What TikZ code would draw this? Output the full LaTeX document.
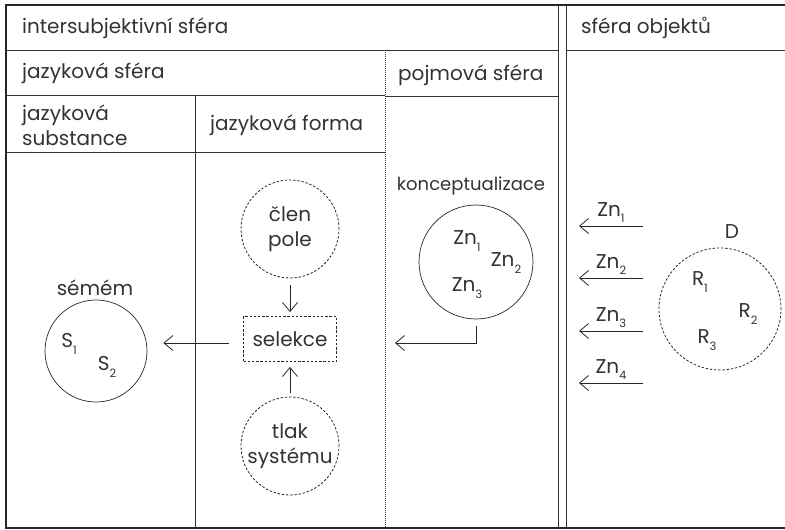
\documentclass[tikz,border=0pt]{standalone}
\usepackage{fontspec}
\setmainfont{Poppins}
\usetikzlibrary{arrows.meta}
% lowered small index, as in Zn1, S1, R1
\newcommand{\idx}[1]{\raisebox{-0.32em}{\fontsize{11.5}{11.5}\selectfont #1}}
\begin{document}
\begin{tikzpicture}[x=1pt,y=-1pt,
  font=\fontsize{20}{25}\selectfont,
  rule/.style={draw=black!80, line width=0.8pt},
  outer/.style={draw=black!85, line width=1.3pt},
  dotrule/.style={draw=black!80, line width=0.7pt, dash pattern=on 1pt off 1pt},
  lbl/.style={anchor=west, inner sep=0pt, text=black!80},
  txt/.style={inner sep=0pt, text=black!80},
  solidcirc/.style={circle, draw=black!85, line width=0.7pt, inner sep=0pt},
  dashcirc/.style={circle, draw=black!85, line width=0.8pt, dash pattern=on 2.4pt off 1.8pt, inner sep=0pt},
  dashbox/.style={draw=black!85, line width=0.8pt, dash pattern=on 2.4pt off 1.8pt, minimum width=93pt, minimum height=45pt, inner sep=0pt, text=black!80},
  arr/.style={draw=black!85, line width=0.8pt, -{Straight Barb[length=9pt,width=15pt,line width=0.8pt]}}
]
\useasboundingbox (0,0) rectangle (785,530);

% ---- frame and table rules ----
\draw[outer] (785,5) -- (6,5) -- (6,528) -- (785,528);
\draw[rule] (6,50) -- (558,50);
\draw[rule] (566,50) -- (785,50);
\draw[rule] (6,95) -- (385,95);
\draw[rule] (385,96) -- (558,96);
\draw[rule] (6,152) -- (385,152);
\draw[rule] (195,95) -- (195,528);
\draw[dotrule] (385,50) -- (385,528);
\draw[rule] (558,5) -- (558,528);
\draw[rule] (566,5) -- (566,528);

% ---- headers ----
\node[lbl] (hInter) at (22,28) {intersubjektivní sféra};
\node[lbl] (hObj) at (581,28) {sféra objektů};
\node[lbl] (hJaz) at (22,73) {jazyková sféra};
\node[lbl] (hPoj) at (398,75) {pojmová sféra};
\node[lbl, align=left] (hSub) at (22,125) {jazyková\\substance};
\node[lbl] (hForm) at (210,125) {jazyková forma};

% ---- semem ----
\node[txt] (semT) at (95,288) {sémém};
\node[solidcirc, minimum size=102pt] (sem) at (96,351) {};
\node[txt] (s1) at (69,344) {S\idx{1}};
\node[txt] (s2) at (107,367) {S\idx{2}};

% ---- language form ----
\node[dashcirc, minimum size=98pt, align=center, text=black!80] (clen) at (290,229) {člen\\pole};
\node[dashbox] (sel) at (290,339) {selekce};
\node[dashcirc, minimum size=98pt, align=center, text=black!80] (tlak) at (290,446) {tlak\\systému};

\draw[arr, shorten <=7pt, shorten >=4pt] (clen) -- (sel);
\draw[arr, shorten <=4pt, shorten >=5pt] (tlak) -- (sel);
\draw[arr, shorten <=14pt, shorten >=16pt] (sel.west |- 0,343) -- (sem.east |- 0,343);

% ---- conceptualisation ----
\node[txt, font=\fontsize{18}{22}\selectfont] (konc) at (471,186) {konceptualizace};
\node[solidcirc, minimum size=114pt] (zn) at (476,262) {};
\node[txt] (zn1) at (467,241) {Zn\idx{1}};
\node[txt] (zn2) at (506,263) {Zn\idx{2}};
\node[txt] (zn3) at (467,288) {Zn\idx{3}};
\coordinate (zntip) at (395,343);
\draw[arr] ([yshift=-7pt]zn.south) |- (zntip);

% ---- object sphere ----
\node[txt] (dT) at (732,232) {D};
\node[dashcirc, minimum size=122pt] (dom) at (720,309) {};
\node[txt] (r1) at (700,282) {R\idx{1}};
\node[txt] (r2) at (748,314) {R\idx{2}};
\node[txt] (r3) at (707,340) {R\idx{3}};

\foreach \i/\y in {1/226, 2/278, 3/331, 4/383} {
  \coordinate (from\i) at (643,\y);
  \coordinate (to\i) at (579,\y);
  \draw[arr] (from\i) -- node[midway, above=3pt, txt] {Zn\idx{\i}} (to\i);
}
\end{tikzpicture}
\end{document}
